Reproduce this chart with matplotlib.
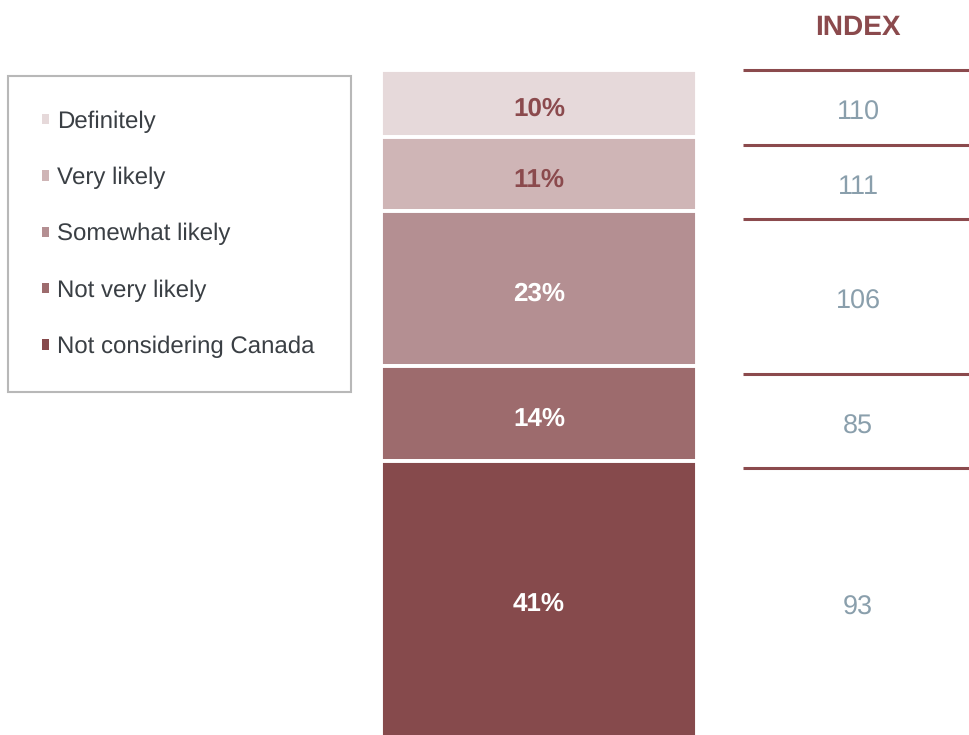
import matplotlib
matplotlib.use("Agg")
import matplotlib.pyplot as plt
import numpy as np

plt.rcParams['font.family'] = ['Liberation Sans', 'DejaVu Sans']
plt.rcParams['text.hinting'] = 'no_hinting'
plt.rcParams['text.hinting_factor'] = 1

# ---- data ----
categories = ["Definitely", "Very likely", "Somewhat likely",
              "Not very likely", "Not considering Canada"]
shares = [10, 11, 23, 14, 41]
index_values = [110, 111, 106, 85, 93]
index_header = "INDEX"

# ---- style ----
seg_colors = ["#E6D9DA", "#CFB5B6", "#B48F92", "#9D6B6D", "#864A4C"]
label_colors = ["#8B4A4D", "#8B4A4D", "white", "white", "white"]
maroon = "#8B4A4D"
index_color = "#8A9FAC"
text_color = "#3A3F44"

W, H = 970, 735
fig = plt.figure(figsize=(W / 100, H / 100), dpi=100)

left_px, right_px, top_px, bot_px = 381, 970, 70, 737
ax = fig.add_axes([left_px / W, (H - bot_px) / H, (right_px - left_px) / W,
                   (bot_px - top_px) / H])
total = sum(shares)
ax.set_ylim(total, 0)
ax.set_xlim(0, 1)
ax.axis("off")

span = right_px - left_px
bar_w = (697 - left_px) / span
bar_x = bar_w / 2
cum = np.cumsum(shares)
bottoms = np.concatenate([[0], cum[:-1]])

handles = []
for cat, v, b, c, lc in zip(categories, shares, bottoms, seg_colors, label_colors):
    h = ax.bar(bar_x, v, width=bar_w, bottom=b, color=c, edgecolor="white",
               linewidth=2.8, label=cat)
    handles.append(h)
    ax.annotate(f"{v}%", (bar_x, b + v / 2), xytext=(0, -3.8),
                textcoords="offset points", ha="center", va="center",
                fontsize=18.5, fontweight="bold", color=lc)

# index table
line_x0 = (743 - left_px) / span
idx_x = (858 - left_px) / span
offset = 1.1
row_edges = [0.0] + list(bottoms[1:] + offset) + [total]
for i, val in enumerate(index_values):
    top_e = row_edges[i]
    bot_e = row_edges[i + 1]
    ax.plot([line_x0, 1.0], [top_e, top_e], color=maroon, lw=2.2,
            solid_capstyle="butt", clip_on=False)
    ax.annotate(str(val), (idx_x, (top_e + bot_e) / 2), xytext=(0, -3.8),
                textcoords="offset points", ha="center", va="center",
                fontsize=19.5, color=index_color)

ax.text(idx_x, -6.3, index_header, ha="center", va="center", fontsize=20.5,
        fontweight="bold", color=maroon, clip_on=False)

# legend
leg = fig.legend(handles=[h[0] for h in handles], labels=categories,
                 loc="upper left",
                 bbox_to_anchor=(8 / W, 1 - 76 / H, (351 - 8) / W, 0),
                 mode="expand", fontsize=17, frameon=True, fancybox=False,
                 handlelength=0.3, handleheight=0.3, handletextpad=0.34,
                 labelspacing=1.44, borderpad=1.45, borderaxespad=0)
frame = leg.get_frame()
frame.set_edgecolor("#A6A6A6")
frame.set_linewidth(1.5)
for t in leg.get_texts():
    t.set_color(text_color)
for p in leg.get_patches():
    p.set_edgecolor("none")

fig.savefig("out.png", dpi=100, facecolor="white")
